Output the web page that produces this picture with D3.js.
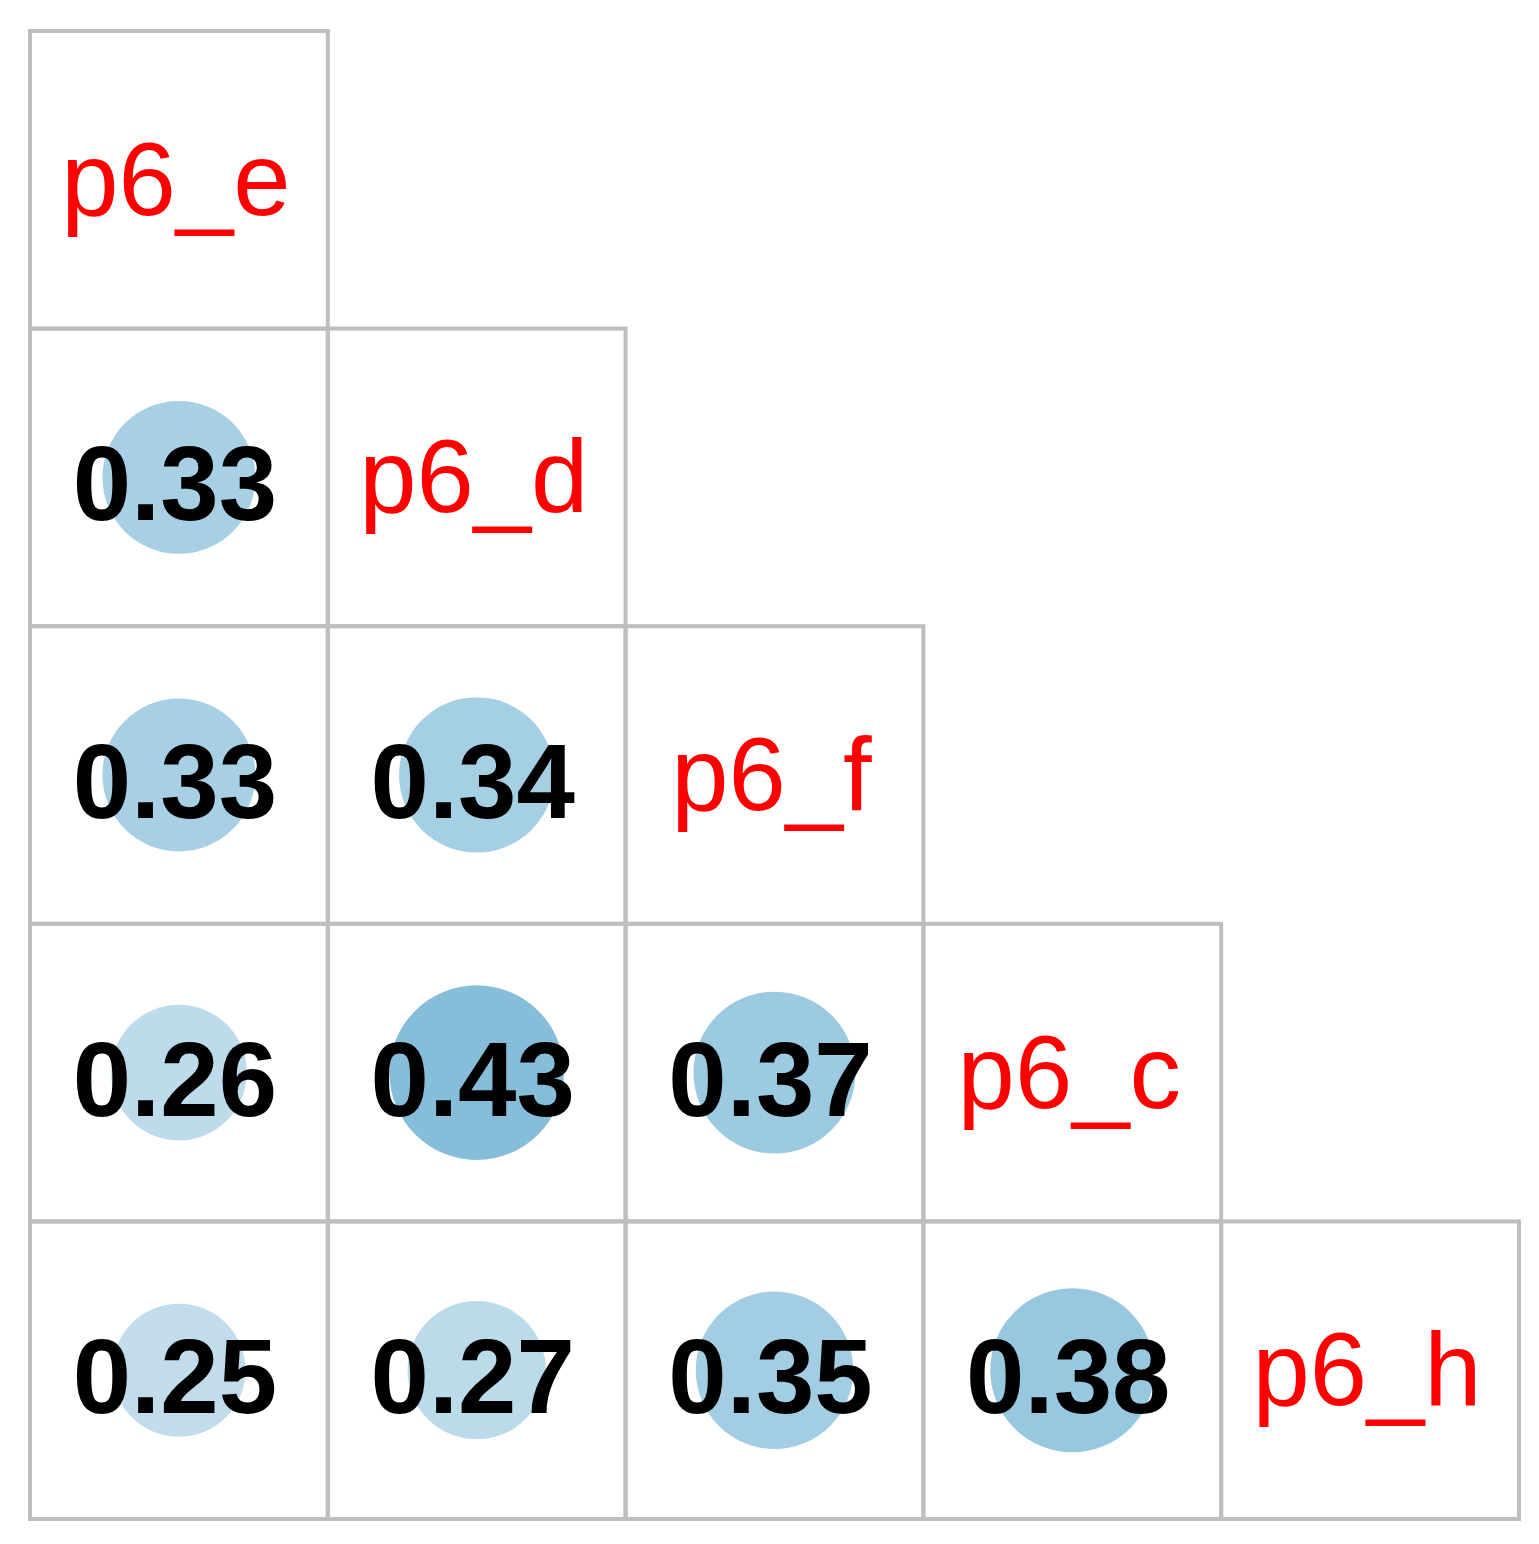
<!DOCTYPE html>
<html>
<head>
<meta charset="utf-8">
<script src="https://cdn.jsdelivr.net/npm/d3@7"></script>
<style>
  html, body { margin: 0; padding: 0; background: #fff; }
  svg { display: block; }
</style>
</head>
<body>
<script>
// Variables in order (diagonal labels)
const variables = ["p6_e", "p6_d", "p6_f", "p6_c", "p6_h"];
// Lower-triangle correlations, row by row (row i has i values)
const rowP6_d = [0.33];
const rowP6_f = [0.33, 0.34];
const rowP6_c = [0.26, 0.43, 0.37];
const rowP6_h = [0.25, 0.27, 0.35, 0.38];
const lowerRows = [[], rowP6_d, rowP6_f, rowP6_c, rowP6_h];

// corrplot RdBu palette anchors
const paletteStops = [-1, -0.8, -0.6, -0.4, -0.2, 0, 0.2, 0.4, 0.6, 0.8, 1];
const paletteColors = ["#67001F","#B2182B","#D6604D","#F4A582","#FDDBC7","#FFFFFF",
                       "#D1E5F0","#92C5DE","#4393C3","#2166AC","#053061"];

const W = 1539, H = 1544;
const svg = d3.select("body").append("svg").attr("width", W).attr("height", H);

const x = d3.scaleBand().domain(variables).range([30, 1519]).padding(0);
const y = d3.scaleBand().domain(variables).range([31, 1519]).padding(0);
const color = d3.scaleLinear().domain(paletteStops).range(paletteColors).interpolate(d3.interpolateRgb);
const bw = x.bandwidth();
const radius = d3.scaleSqrt().domain([0, 1]).range([0, 0.447 * bw]);

// Build cell data
const cells = [];
variables.forEach((rv, i) => {
  lowerRows[i].forEach((val, j) => {
    cells.push({row: rv, col: variables[j], value: val});
  });
});
const diag = variables.map(v => ({row: v, col: v}));

// Grid (cell outlines)
const allCells = cells.concat(diag);
svg.append("g").selectAll("rect").data(allCells).join("rect")
  .attr("x", d => x(d.col))
  .attr("y", d => y(d.row))
  .attr("width", bw)
  .attr("height", y.bandwidth())
  .attr("fill", "none")
  .attr("stroke", "#bebebe")
  .attr("stroke-width", 4);

// Circles
svg.append("g").selectAll("circle").data(cells).join("circle")
  .attr("cx", d => x(d.col) + bw / 2)
  .attr("cy", d => y(d.row) + y.bandwidth() / 2)
  .attr("r", d => radius(Math.abs(d.value)))
  .attr("fill", d => color(d.value));

// Numbers
svg.append("g").selectAll("text").data(cells).join("text")
  .attr("x", d => x(d.col) + bw / 2 - 4)
  .attr("y", d => y(d.row) + y.bandwidth() / 2 + 43)
  .attr("text-anchor", "middle")
  .attr("font-family", "Liberation Sans, Arial, sans-serif")
  .attr("font-weight", "bold")
  .attr("font-size", 105)
  .attr("fill", "#000")
  .text(d => d3.format(".2f")(d.value));

// Diagonal labels
svg.append("g").selectAll("text").data(diag).join("text")
  .attr("x", d => x(d.col) + bw / 2 - 3)
  .attr("y", d => y(d.row) + y.bandwidth() / 2 + 35)
  .attr("text-anchor", "middle")
  .attr("font-family", "Liberation Sans, Arial, sans-serif")
  .attr("font-size", 103)
  .attr("fill", "#ff0000")
  .text(d => d.row);
</script>
</body>
</html>
